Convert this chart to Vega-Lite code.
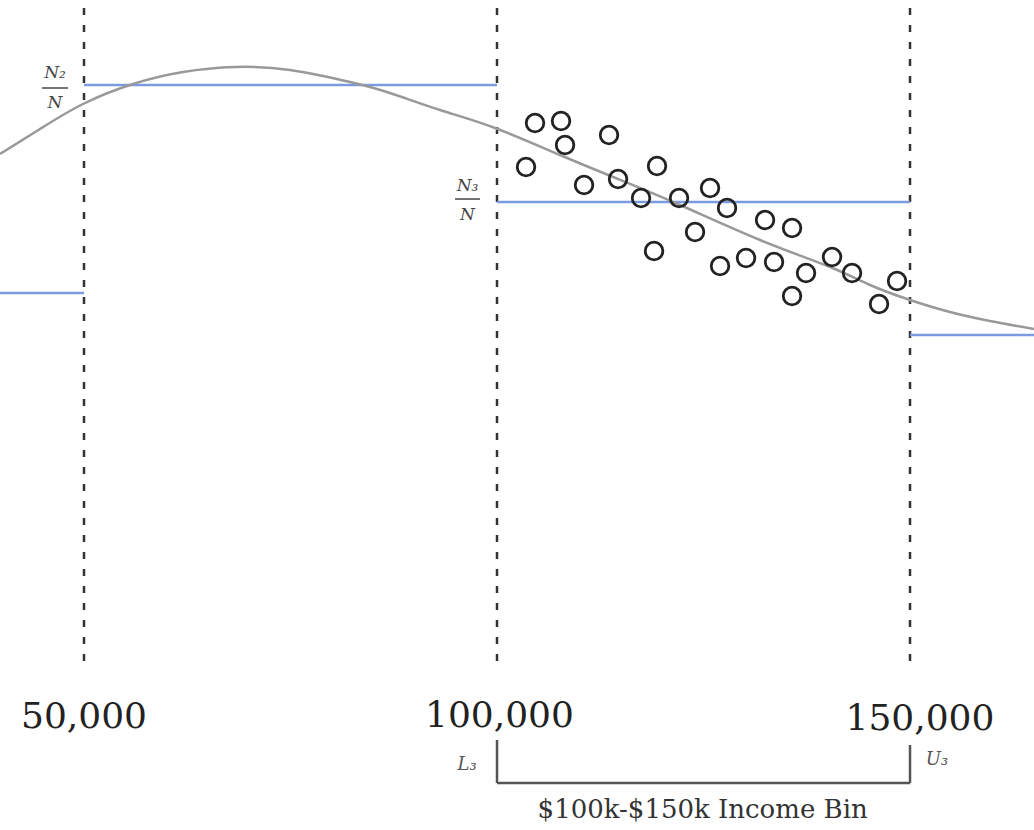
{
  "$schema": "https://vega.github.io/schema/vega-lite/v6.json",
  "width": 1034,
  "height": 830,
  "autosize": {"type": "none"},
  "padding": 0,
  "background": "white",
  "config": {"view": {"stroke": null}},
  "datasets": {
    "curve": [
      {"income": 39830, "y": 676}, {"income": 44673, "y": 701}, {"income": 49879, "y": 726},
      {"income": 55932, "y": 746}, {"income": 61986, "y": 758}, {"income": 68281, "y": 763},
      {"income": 74940, "y": 760}, {"income": 82204, "y": 748}, {"income": 87047, "y": 737},
      {"income": 93101, "y": 720}, {"income": 99760, "y": 702}, {"income": 107629, "y": 675},
      {"income": 114651, "y": 651}, {"income": 122158, "y": 625}, {"income": 131843, "y": 590},
      {"income": 140318, "y": 563}, {"income": 145160, "y": 545}, {"income": 150000, "y": 530},
      {"income": 154840, "y": 518}, {"income": 159680, "y": 509}, {"income": 165010, "y": 501}
    ],
    "points": [
      {"income": 104602, "y": 707}, {"income": 107750, "y": 709}, {"income": 108235, "y": 685},
      {"income": 103513, "y": 663}, {"income": 113562, "y": 695}, {"income": 110535, "y": 645},
      {"income": 114651, "y": 651}, {"income": 119373, "y": 664}, {"income": 117436, "y": 632},
      {"income": 122037, "y": 632}, {"income": 125790, "y": 642}, {"income": 127848, "y": 622},
      {"income": 123974, "y": 598}, {"income": 119010, "y": 579}, {"income": 132449, "y": 610},
      {"income": 135717, "y": 602}, {"income": 127000, "y": 564}, {"income": 130148, "y": 572},
      {"income": 133538, "y": 568}, {"income": 137412, "y": 557}, {"income": 135717, "y": 534},
      {"income": 140560, "y": 573}, {"income": 142982, "y": 557}, {"income": 146251, "y": 526},
      {"income": 148430, "y": 549}
    ],
    "bins": [
      {"lo": 39830, "hi": 50000, "share": 537},
      {"lo": 50000, "hi": 100000, "share": 745},
      {"lo": 100000, "hi": 150000, "share": 628},
      {"lo": 150000, "hi": 165010, "share": 495}
    ],
    "bounds": [
      {"income": 50000, "top": 822, "bottom": 160},
      {"income": 100000, "top": 822, "bottom": 160},
      {"income": 150000, "top": 822, "bottom": 160}
    ],
    "ticklabels": [
      {"at": 50000, "y": 102, "label": "50,000"},
      {"at": 100300, "y": 103, "label": "100,000"},
      {"at": 151200, "y": 100, "label": "150,000"}
    ],
    "bracket": [
      {"x0": 100000, "x1": 100000, "y0": 90, "y1": 47},
      {"x0": 100000, "x1": 150000, "y0": 47, "y1": 47},
      {"x0": 150000, "x1": 150000, "y0": 85, "y1": 47}
    ],
    "boundlabels": [
      {"at": 96370, "y": 65, "label": "L₃"},
      {"at": 153270, "y": 70, "label": "U₃"}
    ],
    "caption": [
      {"at": 124900, "y": 20, "label": "$100k-$150k Income Bin"}
    ],
    "fracbars": [
      {"x0": 44915, "x1": 48063, "y": 742},
      {"x0": 94917, "x1": 97944, "y": 631}
    ],
    "fractext": [
      {"at": 46489, "y": 757, "label": "N₂"},
      {"at": 46489, "y": 727, "label": "N"},
      {"at": 96430, "y": 644, "label": "N₃"},
      {"at": 96430, "y": 615, "label": "N"}
    ]
  },
  "layer": [
    {
      "data": {"name": "bounds"},
      "mark": {"type": "rule", "color": "#333333", "strokeWidth": 2.5, "strokeDash": [7, 10]},
      "encoding": {
        "x": {"field": "income", "type": "quantitative", "scale": {"domain": [39830, 165010], "nice": false, "zero": false}, "axis": null},
        "y": {"field": "top", "type": "quantitative", "scale": {"domain": [0, 830], "nice": false}, "axis": null},
        "y2": {"field": "bottom"}
      }
    },
    {
      "data": {"name": "bins"},
      "mark": {"type": "rule", "color": "#7b9be0", "strokeWidth": 2.5},
      "encoding": {
        "x": {"field": "lo", "type": "quantitative"},
        "x2": {"field": "hi"},
        "y": {"field": "share", "type": "quantitative"}
      }
    },
    {
      "data": {"name": "curve"},
      "mark": {"type": "line", "color": "#999999", "strokeWidth": 2.5, "interpolate": "natural"},
      "encoding": {
        "x": {"field": "income", "type": "quantitative"},
        "y": {"field": "y", "type": "quantitative"}
      }
    },
    {
      "data": {"name": "points"},
      "mark": {"type": "point", "shape": "circle", "filled": false, "size": 310, "stroke": "#222222", "strokeWidth": 2.8, "opacity": 1},
      "encoding": {
        "x": {"field": "income", "type": "quantitative"},
        "y": {"field": "y", "type": "quantitative"}
      }
    },
    {
      "data": {"name": "ticklabels"},
      "mark": {"type": "text", "font": "DejaVu Serif", "fontSize": 36, "color": "#222222", "align": "center", "baseline": "alphabetic"},
      "encoding": {
        "x": {"field": "at", "type": "quantitative"},
        "y": {"field": "y", "type": "quantitative"},
        "text": {"field": "label"}
      }
    },
    {
      "data": {"name": "bracket"},
      "mark": {"type": "rule", "color": "#555555", "strokeWidth": 2.5},
      "encoding": {
        "x": {"field": "x0", "type": "quantitative"},
        "x2": {"field": "x1"},
        "y": {"field": "y0", "type": "quantitative"},
        "y2": {"field": "y1"}
      }
    },
    {
      "data": {"name": "boundlabels"},
      "mark": {"type": "text", "font": "DejaVu Serif", "fontSize": 18, "fontStyle": "italic", "color": "#555555", "align": "center", "baseline": "middle"},
      "encoding": {
        "x": {"field": "at", "type": "quantitative"},
        "y": {"field": "y", "type": "quantitative"},
        "text": {"field": "label"}
      }
    },
    {
      "data": {"name": "caption"},
      "mark": {"type": "text", "font": "DejaVu Serif", "fontSize": 26, "color": "#333333", "align": "center", "baseline": "middle"},
      "encoding": {
        "x": {"field": "at", "type": "quantitative"},
        "y": {"field": "y", "type": "quantitative"},
        "text": {"field": "label"}
      }
    },
    {
      "data": {"name": "fracbars"},
      "mark": {"type": "rule", "color": "#444444", "strokeWidth": 1.5},
      "encoding": {
        "x": {"field": "x0", "type": "quantitative"},
        "x2": {"field": "x1"},
        "y": {"field": "y", "type": "quantitative"}
      }
    },
    {
      "data": {"name": "fractext"},
      "mark": {"type": "text", "font": "DejaVu Serif", "fontSize": 17, "fontStyle": "italic", "color": "#444444", "align": "center", "baseline": "middle"},
      "encoding": {
        "x": {"field": "at", "type": "quantitative"},
        "y": {"field": "y", "type": "quantitative"},
        "text": {"field": "label"}
      }
    }
  ]
}
